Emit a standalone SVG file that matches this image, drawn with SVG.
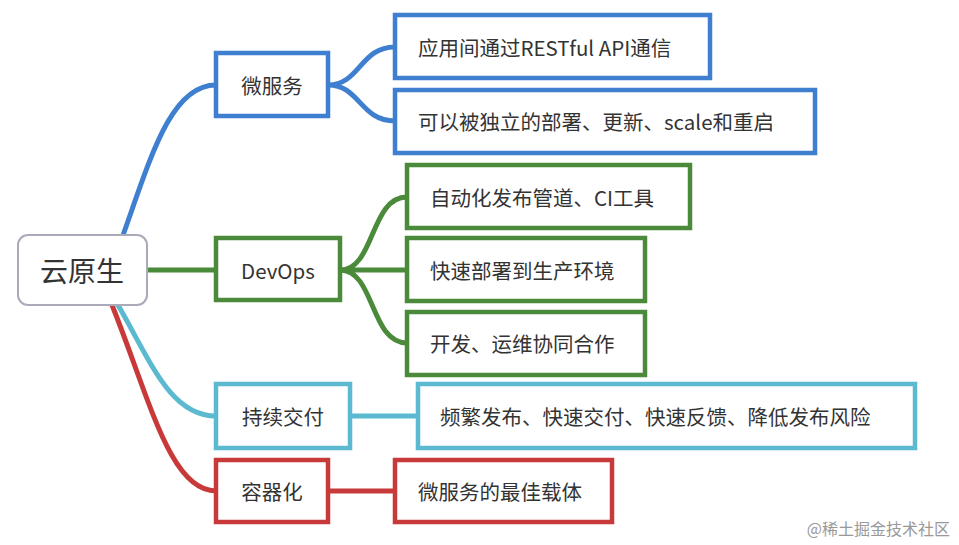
<svg xmlns="http://www.w3.org/2000/svg" width="959" height="545" viewBox="0 0 959 545">
<style>
text{font-family:"Noto Sans CJK SC","Liberation Sans",sans-serif;font-size:20.5px;fill:#333;dominant-baseline:central}
.b{fill:#fff;stroke:#3f7fd0;stroke-width:4.5}
.g{fill:#fff;stroke:#4a8a3a;stroke-width:4.5}
.t{fill:#fff;stroke:#5bbad0;stroke-width:4.5}
.r{fill:#fff;stroke:#c83a3a;stroke-width:4.5}
.c{fill:none;stroke-width:5;stroke-linecap:round}
</style>
<rect width="959" height="545" fill="#fff"/>
<g id="connectors">
<path class="c" stroke="#3f7fd0" d="M122 238 C150 160 170 85 216 85"/>
<path class="c" stroke="#4a8a3a" d="M147 270 L216 270"/>
<path class="c" stroke="#5bbad0" d="M118 305 C150 360 170 416 216 416"/>
<path class="c" stroke="#c83a3a" d="M112 305 C150 400 170 491 216 491"/>
<path class="c" stroke="#3f7fd0" d="M328 85 C360 85 360 47 395 47 M328 85 C360 85 360 121 395 121"/>
<path class="c" stroke="#4a8a3a" d="M340 270 C375 270 370 197 407 197 M340 270 L407 270 M340 270 C375 270 370 343 407 343"/>
<path class="c" stroke="#5bbad0" d="M350 416 L418 416"/>
<path class="c" stroke="#c83a3a" d="M328 491 L395 491"/>
</g>
<g id="root"><rect x="18" y="235" width="129" height="70" rx="10" fill="#fff" stroke="#aab" stroke-width="2"/><text x="82" y="270" text-anchor="middle" style="font-size:28px">云原生</text></g>
<g id="wfw"><rect class="b" x="216" y="53" width="112" height="63"/><text x="272" y="85" text-anchor="middle">微服务</text></g>
<g id="wfw1"><rect class="b" x="395" y="15" width="315" height="63"/><text x="418" y="47">应用间通过RESTful API通信</text></g>
<g id="wfw2"><rect class="b" x="395" y="90" width="420" height="63"/><text x="418" y="121">可以被独立的部署、更新、scale和重启</text></g>
<g id="devops"><rect class="g" x="216" y="238" width="124" height="62"/><text x="278" y="270" text-anchor="middle">DevOps</text></g>
<g id="d1"><rect class="g" x="407" y="165" width="283" height="63"/><text x="430" y="197">自动化发布管道、CI工具</text></g>
<g id="d2"><rect class="g" x="407" y="238" width="238" height="63"/><text x="430" y="270">快速部署到生产环境</text></g>
<g id="d3"><rect class="g" x="407" y="312" width="238" height="63"/><text x="430" y="343">开发、运维协同合作</text></g>
<g id="cxjf"><rect class="t" x="216" y="384" width="134" height="64"/><text x="283" y="416" text-anchor="middle">持续交付</text></g>
<g id="c1"><rect class="t" x="418" y="384" width="497" height="64"/><text x="440" y="416">频繁发布、快速交付、快速反馈、降低发布风险</text></g>
<g id="rqh"><rect class="r" x="216" y="460" width="112" height="62"/><text x="272" y="491" text-anchor="middle">容器化</text></g>
<g id="r1"><rect class="r" x="395" y="460" width="217" height="62"/><text x="418" y="491">微服务的最佳载体</text></g>
<text x="950" y="528" text-anchor="end" style="font-size:16px;fill:#999">@稀土掘金技术社区</text>
</svg>
